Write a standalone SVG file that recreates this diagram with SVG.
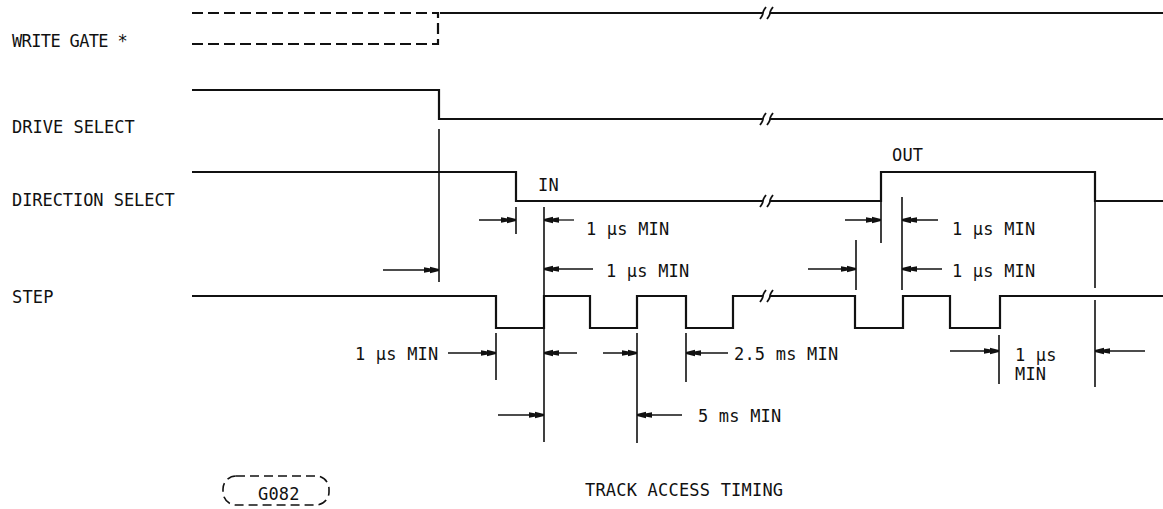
<svg xmlns="http://www.w3.org/2000/svg" width="1163" height="509" viewBox="0 0 1163 509">
<style>
text{font-family:"DejaVu Sans Mono","Liberation Mono",monospace;font-size:17px;letter-spacing:0.2px;fill:#111}
.sig{fill:none;stroke:#111;stroke-width:2.2;stroke-linejoin:miter}
.dash{fill:none;stroke:#111;stroke-width:2.2;stroke-dasharray:11 5}
.brk{fill:none;stroke:#111;stroke-width:1.8}
.tick{fill:none;stroke:#111;stroke-width:1.6}
.arr{fill:none;stroke:#111;stroke-width:1.3;marker-end:url(#ah)}
</style>
<defs>
<marker id="ah" viewBox="0 0 15 8" refX="15" refY="4" markerWidth="15" markerHeight="8" markerUnits="userSpaceOnUse" orient="auto">
<path d="M0,1.2 L15,4 L0,6.8 Z M6,0.8 L15,3 L15,5 L6,7.2 Z" fill="#111"/>
</marker>
</defs>
<rect width="1163" height="509" fill="#fff"/>

<g id="write-gate">
<text x="12" y="47" textLength="116">WRITE GATE *</text>
<path class="dash" d="M192,13 H438 V44 H192"/>
<path class="sig" d="M440,13 H763 M770,13 H1163"/>
<path class="brk" d="M760,19 Q763,15 763,13 Q763,11 766,7 M767,19 Q770,15 770,13 Q770,11 773,7"/>
</g>

<g id="drive-select">
<text x="12" y="133" textLength="123">DRIVE SELECT</text>
<path class="sig" d="M192,90 H439 V119 H763 M770,119 H1163"/>
<path class="brk" d="M760,125 Q763,121 763,119 Q763,117 766,113 M767,125 Q770,121 770,119 Q770,117 773,113"/>
</g>

<g id="direction-select">
<text x="12" y="206" textLength="163">DIRECTION SELECT</text>
<path class="sig" d="M192,172 H516 V201 H763 M770,201 H881 V172 H1095 V201 H1163"/>
<path class="brk" d="M760,207 Q763,203 763,201 Q763,199 766,195 M767,207 Q770,203 770,201 Q770,199 773,195"/>
<text x="538" y="191">IN</text>
<text x="892" y="161">OUT</text>
</g>

<g id="step">
<text x="12" y="303">STEP</text>
<path class="sig" d="M192,296 H496 V328 H544 V296 H590 V328 H637 V296 H686 V328 H733 V296 H763 M770,296 H855 V328 H903 V296 H950 V328 H1000 V296 H1163"/>
<path class="brk" d="M760,302 Q763,298 763,296 Q763,294 766,290 M767,302 Q770,298 770,296 Q770,294 773,290"/>
</g>

<g id="connectors">
<path class="tick" d="M439,129 V282 M516,207 V234 M544,207 V442 M881,197 V243 M856,240 V290 M902,197 V290 M1095,201 V288 M1095,300 V387 M496,333 V380 M637,333 V443 M686,333 V382 M999,335 V384"/>
<line class="arr" x1="383" y1="270" x2="439" y2="270"/>
<line class="arr" x1="479" y1="220" x2="516" y2="220"/>
<line class="arr" x1="574" y1="220" x2="544" y2="220"/>
<line class="arr" x1="593" y1="269" x2="544" y2="269"/>
<line class="arr" x1="845" y1="220" x2="881" y2="220"/>
<line class="arr" x1="808" y1="269" x2="856" y2="269"/>
<line class="arr" x1="938" y1="220" x2="902" y2="220"/>
<line class="arr" x1="942" y1="269" x2="902" y2="269"/>
<line class="arr" x1="448" y1="353" x2="496" y2="353"/>
<line class="arr" x1="577" y1="353" x2="544" y2="353"/>
<line class="arr" x1="603" y1="353" x2="637" y2="353"/>
<line class="arr" x1="728" y1="353" x2="686" y2="353"/>
<line class="arr" x1="498" y1="415" x2="544" y2="415"/>
<line class="arr" x1="682" y1="415" x2="637" y2="415"/>
<line class="arr" x1="950" y1="351" x2="999" y2="351"/>
<line class="arr" x1="1145" y1="351" x2="1095" y2="351"/>
</g>

<g id="labels">
<text x="586" y="235">1 µs MIN</text>
<text x="606" y="277">1 µs MIN</text>
<text x="952" y="235">1 µs MIN</text>
<text x="952" y="277">1 µs MIN</text>
<text x="355" y="360">1 µs MIN</text>
<text x="734" y="360">2.5 ms MIN</text>
<text x="698" y="422">5 ms MIN</text>
<text x="1015" y="361">1 µs</text>
<text x="1015" y="380">MIN</text>
</g>

<g id="footer">
<rect x="223" y="476" width="106" height="29" rx="13" ry="13" fill="none" stroke="#111" stroke-width="1.6" stroke-dasharray="9 5"/>
<text x="258" y="500">G082</text>
<text x="585" y="496">TRACK ACCESS TIMING</text>
</g>
</svg>
